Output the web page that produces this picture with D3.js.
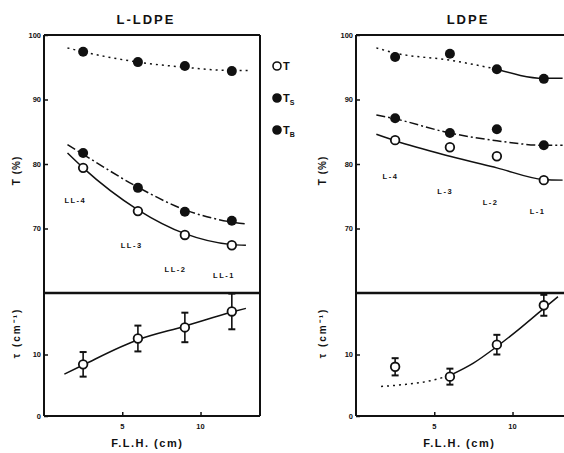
<!DOCTYPE html>
<html>
<head>
<meta charset="utf-8">
<script src="https://cdn.jsdelivr.net/npm/d3@7"></script>
<style>
  html, body { margin: 0; padding: 0; background: #fff; }
  svg { display: block; }
  text { font-family: "Liberation Sans", Arial, sans-serif; font-weight: bold; fill: #111; }
</style>
</head>
<body>
<svg id="chart" width="564" height="453"></svg>
<script>
// Frost line height (cm) of the four film samples
const flh = [2.5, 6, 9, 12];

// L-LDPE films: transmittance (%) and turbidity (cm^-1)
const llT   = [79.4, 72.7, 69.0, 67.4];
const llTs  = [97.4, 95.8, 95.2, 94.4];
const llTb  = [81.7, 76.3, 72.6, 71.2];
const llTau = [8.4, 12.6, 14.4, 17.0];
const llTauErr = [2.0, 2.1, 2.4, 2.9];
const llNames = ["LL-4", "LL-3", "LL-2", "LL-1"];

// LDPE films
const lT   = [83.7, 82.6, 81.2, 77.5];
const lTs  = [96.6, 97.1, 94.7, 93.2];
const lTb  = [87.1, 84.8, 85.4, 82.9];
const lTau = [8.0, 6.4, 11.6, 18.0];
const lTauErr = [1.4, 1.3, 1.6, 1.7];
const lNames = ["L-4", "L-3", "L-2", "L-1"];

// Fitted trend curves, [F.L.H., value]
const llFitT   = [[1.5, 81.7], [2.5, 79.4], [6, 72.9], [9, 69.2], [12, 67.5], [12.9, 67.4]];
const llFitTs  = [[1.5, 98.0], [2.5, 97.4], [6, 95.8], [9, 95.0], [12, 94.5], [13.1, 94.5]];
const llFitTb  = [[1.5, 83.0], [2.5, 81.5], [6, 76.4], [9, 72.9], [12, 71.0], [12.9, 70.7]];
const llFitTau = [[1.3, 6.8], [2.5, 8.3], [6, 12.4], [9, 14.6], [12, 16.9], [12.9, 17.5]];

const lFitT      = [[1.3, 84.6], [2.5, 83.6], [6, 81.2], [9, 79.4], [12, 77.6], [13.2, 77.5]];
const lFitTsDot  = [[1.3, 98.0], [2.5, 97.2], [6, 96.1], [9, 94.7]];
const lFitTsLine = [[9, 94.7], [12, 93.3], [13.2, 93.3]];
const lFitTb     = [[1.3, 87.6], [2.5, 87.0], [6, 84.8], [9, 83.6], [12, 82.9], [13.2, 82.9]];
const lFitTauDot  = [[1.6, 4.8], [3, 5.1], [4.5, 5.6], [6, 6.6]];
const lFitTauLine = [[6, 6.6], [7.5, 8.6], [9, 11.3], [10.5, 14.3], [12, 17.5], [12.9, 19.4]];

// Axis ticks
const tTicks = [70, 80, 90, 100];
const tauTicks = [0, 10];
const xTicks = [5, 10];

const svg = d3.select("#chart");

const topY = 35, midY = 293, botY = 416;

function panel(cfg) {
  const g = svg.append("g");
  const x = d3.scaleLinear().domain([0, 13.8]).range([cfg.x0, cfg.x1]);
  const yT = d3.scaleLinear().domain([60, 100]).range([midY, topY]);
  const yTau = d3.scaleLinear().domain([0, 20]).range([botY, midY]);

  // title
  g.append("text").attr("x", cfg.titleX).attr("y", 24)
    .attr("text-anchor", "middle").attr("font-size", 13).attr("letter-spacing", 2)
    .text(cfg.title);

  // frame
  const fr = g.append("g").attr("stroke", "#111").attr("fill", "none");
  fr.append("line").attr("x1", cfg.x0).attr("x2", cfg.x1).attr("y1", topY).attr("y2", topY).attr("stroke-width", 2);
  fr.append("line").attr("x1", cfg.x0).attr("x2", cfg.x1).attr("y1", midY).attr("y2", midY).attr("stroke-width", 2.5);
  fr.append("line").attr("x1", cfg.x0).attr("x2", cfg.x1).attr("y1", botY).attr("y2", botY).attr("stroke-width", 2);
  fr.append("line").attr("x1", cfg.x0).attr("x2", cfg.x0).attr("y1", topY).attr("y2", botY).attr("stroke-width", 2);
  if (cfg.rightBorder) {
    fr.append("line").attr("x1", cfg.x1).attr("x2", cfg.x1).attr("y1", topY).attr("y2", botY).attr("stroke-width", 2);
  }

  // axes with inward ticks
  const axT = g.append("g").attr("transform", `translate(${cfg.x0},0)`)
    .call(d3.axisRight(yT).tickValues(tTicks).tickSize(4).tickFormat(""));
  const axTau = g.append("g").attr("transform", `translate(${cfg.x0},0)`)
    .call(d3.axisRight(yTau).tickValues(tauTicks).tickSize(4).tickFormat(""));
  const axX = g.append("g").attr("transform", `translate(0,${botY})`)
    .call(d3.axisTop(x).tickValues(xTicks).tickSize(4).tickFormat(""));
  [axT, axTau, axX].forEach(a => {
    a.select(".domain").remove();
    a.selectAll("line").attr("stroke", "#111").attr("stroke-width", 1.5);
  });

  // tick labels
  tTicks.forEach(v => g.append("text").attr("x", cfg.x0 - 3).attr("y", yT(v) + 2.5)
    .attr("text-anchor", "end").attr("font-size", 7.5).text(v));
  tauTicks.forEach(v => g.append("text").attr("x", cfg.x0 - 3).attr("y", yTau(v) + 2.5)
    .attr("text-anchor", "end").attr("font-size", 7.5).text(v));
  xTicks.forEach(v => g.append("text").attr("x", x(v)).attr("y", botY + 13)
    .attr("text-anchor", "middle").attr("font-size", 7.5).text(v));

  // axis titles
  g.append("text").attr("transform", `translate(${cfg.yLabX},${yT(79)}) rotate(-90)`)
    .attr("text-anchor", "middle").attr("font-size", 10).attr("letter-spacing", 1).text("T (%)");
  g.append("text").attr("transform", `translate(${cfg.yLabX},${yTau(13.5)}) rotate(-90)`)
    .attr("text-anchor", "middle").attr("font-size", 10).attr("letter-spacing", 2).text("τ (cm⁻¹)");
  g.append("text").attr("x", x(6.6)).attr("y", 447)
    .attr("text-anchor", "middle").attr("font-size", 11).attr("letter-spacing", 1.5)
    .text("F.L.H. (cm)");

  const lineT = d3.line().x(d => x(d[0])).y(d => yT(d[1])).curve(d3.curveMonotoneX);
  const lineTau = d3.line().x(d => x(d[0])).y(d => yTau(d[1])).curve(d3.curveMonotoneX);

  const curves = g.append("g").attr("fill", "none").attr("stroke", "#111").attr("stroke-width", 1.5);
  cfg.curvesT.forEach(c => curves.append("path").attr("d", lineT(c.pts)).attr("stroke-dasharray", c.dash));
  cfg.curvesTau.forEach(c => curves.append("path").attr("d", lineTau(c.pts)).attr("stroke-dasharray", c.dash));

  // filled markers
  [cfg.ts, cfg.tb].forEach(vals => {
    g.append("g").selectAll("circle").data(vals).join("circle")
      .attr("cx", (d, i) => x(flh[i])).attr("cy", d => yT(d)).attr("r", 5).attr("fill", "#111");
  });
  // open markers
  g.append("g").selectAll("circle").data(cfg.t).join("circle")
    .attr("cx", (d, i) => x(flh[i])).attr("cy", d => yT(d)).attr("r", 4.3)
    .attr("fill", "#fff").attr("stroke", "#111").attr("stroke-width", 1.8);

  // turbidity with error bars
  const eb = g.append("g").attr("stroke", "#111").attr("stroke-width", 1.6);
  cfg.tau.forEach((v, i) => {
    const cx = x(flh[i]), e = cfg.tauErr[i];
    eb.append("line").attr("x1", cx).attr("x2", cx).attr("y1", yTau(v + e)).attr("y2", yTau(v - e));
    [v + e, v - e].forEach(w => eb.append("line").attr("x1", cx - 3.5).attr("x2", cx + 3.5)
      .attr("y1", yTau(w)).attr("y2", yTau(w)).attr("stroke-width", 2));
  });
  g.append("g").selectAll("circle").data(cfg.tau).join("circle")
    .attr("cx", (d, i) => x(flh[i])).attr("cy", d => yTau(d)).attr("r", 4.3)
    .attr("fill", "#fff").attr("stroke", "#111").attr("stroke-width", 1.8);

  // sample names
  cfg.names.forEach((n, i) => g.append("text")
    .attr("x", x(cfg.nameAt[i][0])).attr("y", yT(cfg.nameAt[i][1]))
    .attr("text-anchor", "middle").attr("font-size", 7.5).attr("letter-spacing", 1.5).text(n));

  return g;
}

panel({
  title: "L-LDPE", titleX: 146, x0: 44, x1: 260, rightBorder: true, yLabX: 20,
  t: llT, ts: llTs, tb: llTb, tau: llTau, tauErr: llTauErr, names: llNames,
  nameAt: [[2.0, 74.0], [5.6, 67.0], [8.4, 63.3], [11.5, 62.3]],
  curvesT: [
    { pts: llFitTs, dash: "2,4" },
    { pts: llFitTb, dash: "9,3,2,3" },
    { pts: llFitT, dash: null }
  ],
  curvesTau: [{ pts: llFitTau, dash: null }]
});

panel({
  title: "LDPE", titleX: 468, x0: 356, x1: 572, rightBorder: false, yLabX: 326,
  t: lT, ts: lTs, tb: lTb, tau: lTau, tauErr: lTauErr, names: lNames,
  nameAt: [[2.2, 77.6], [5.7, 75.4], [8.6, 73.7], [11.6, 72.2]],
  curvesT: [
    { pts: lFitTsDot, dash: "2,4" },
    { pts: lFitTsLine, dash: null },
    { pts: lFitTb, dash: "9,3,2,3" },
    { pts: lFitT, dash: null }
  ],
  curvesTau: [
    { pts: lFitTauDot, dash: "2,4" },
    { pts: lFitTauLine, dash: null }
  ]
});

// legend between the panels
const legend = [
  { label: "T", sub: "", filled: false },
  { label: "T", sub: "S", filled: true },
  { label: "T", sub: "B", filled: true }
];
const lg = svg.append("g");
legend.forEach((d, i) => {
  const y = 66 + i * 32;
  lg.append("circle").attr("cx", 277).attr("cy", y).attr("r", 4)
    .attr("fill", d.filled ? "#111" : "#fff").attr("stroke", "#111").attr("stroke-width", 1.6);
  const t = lg.append("text").attr("x", 283).attr("y", y + 4).attr("font-size", 11).text(d.label);
  if (d.sub) t.append("tspan").attr("dy", 3).attr("font-size", 7).text(d.sub);
});
</script>
</body>
</html>
